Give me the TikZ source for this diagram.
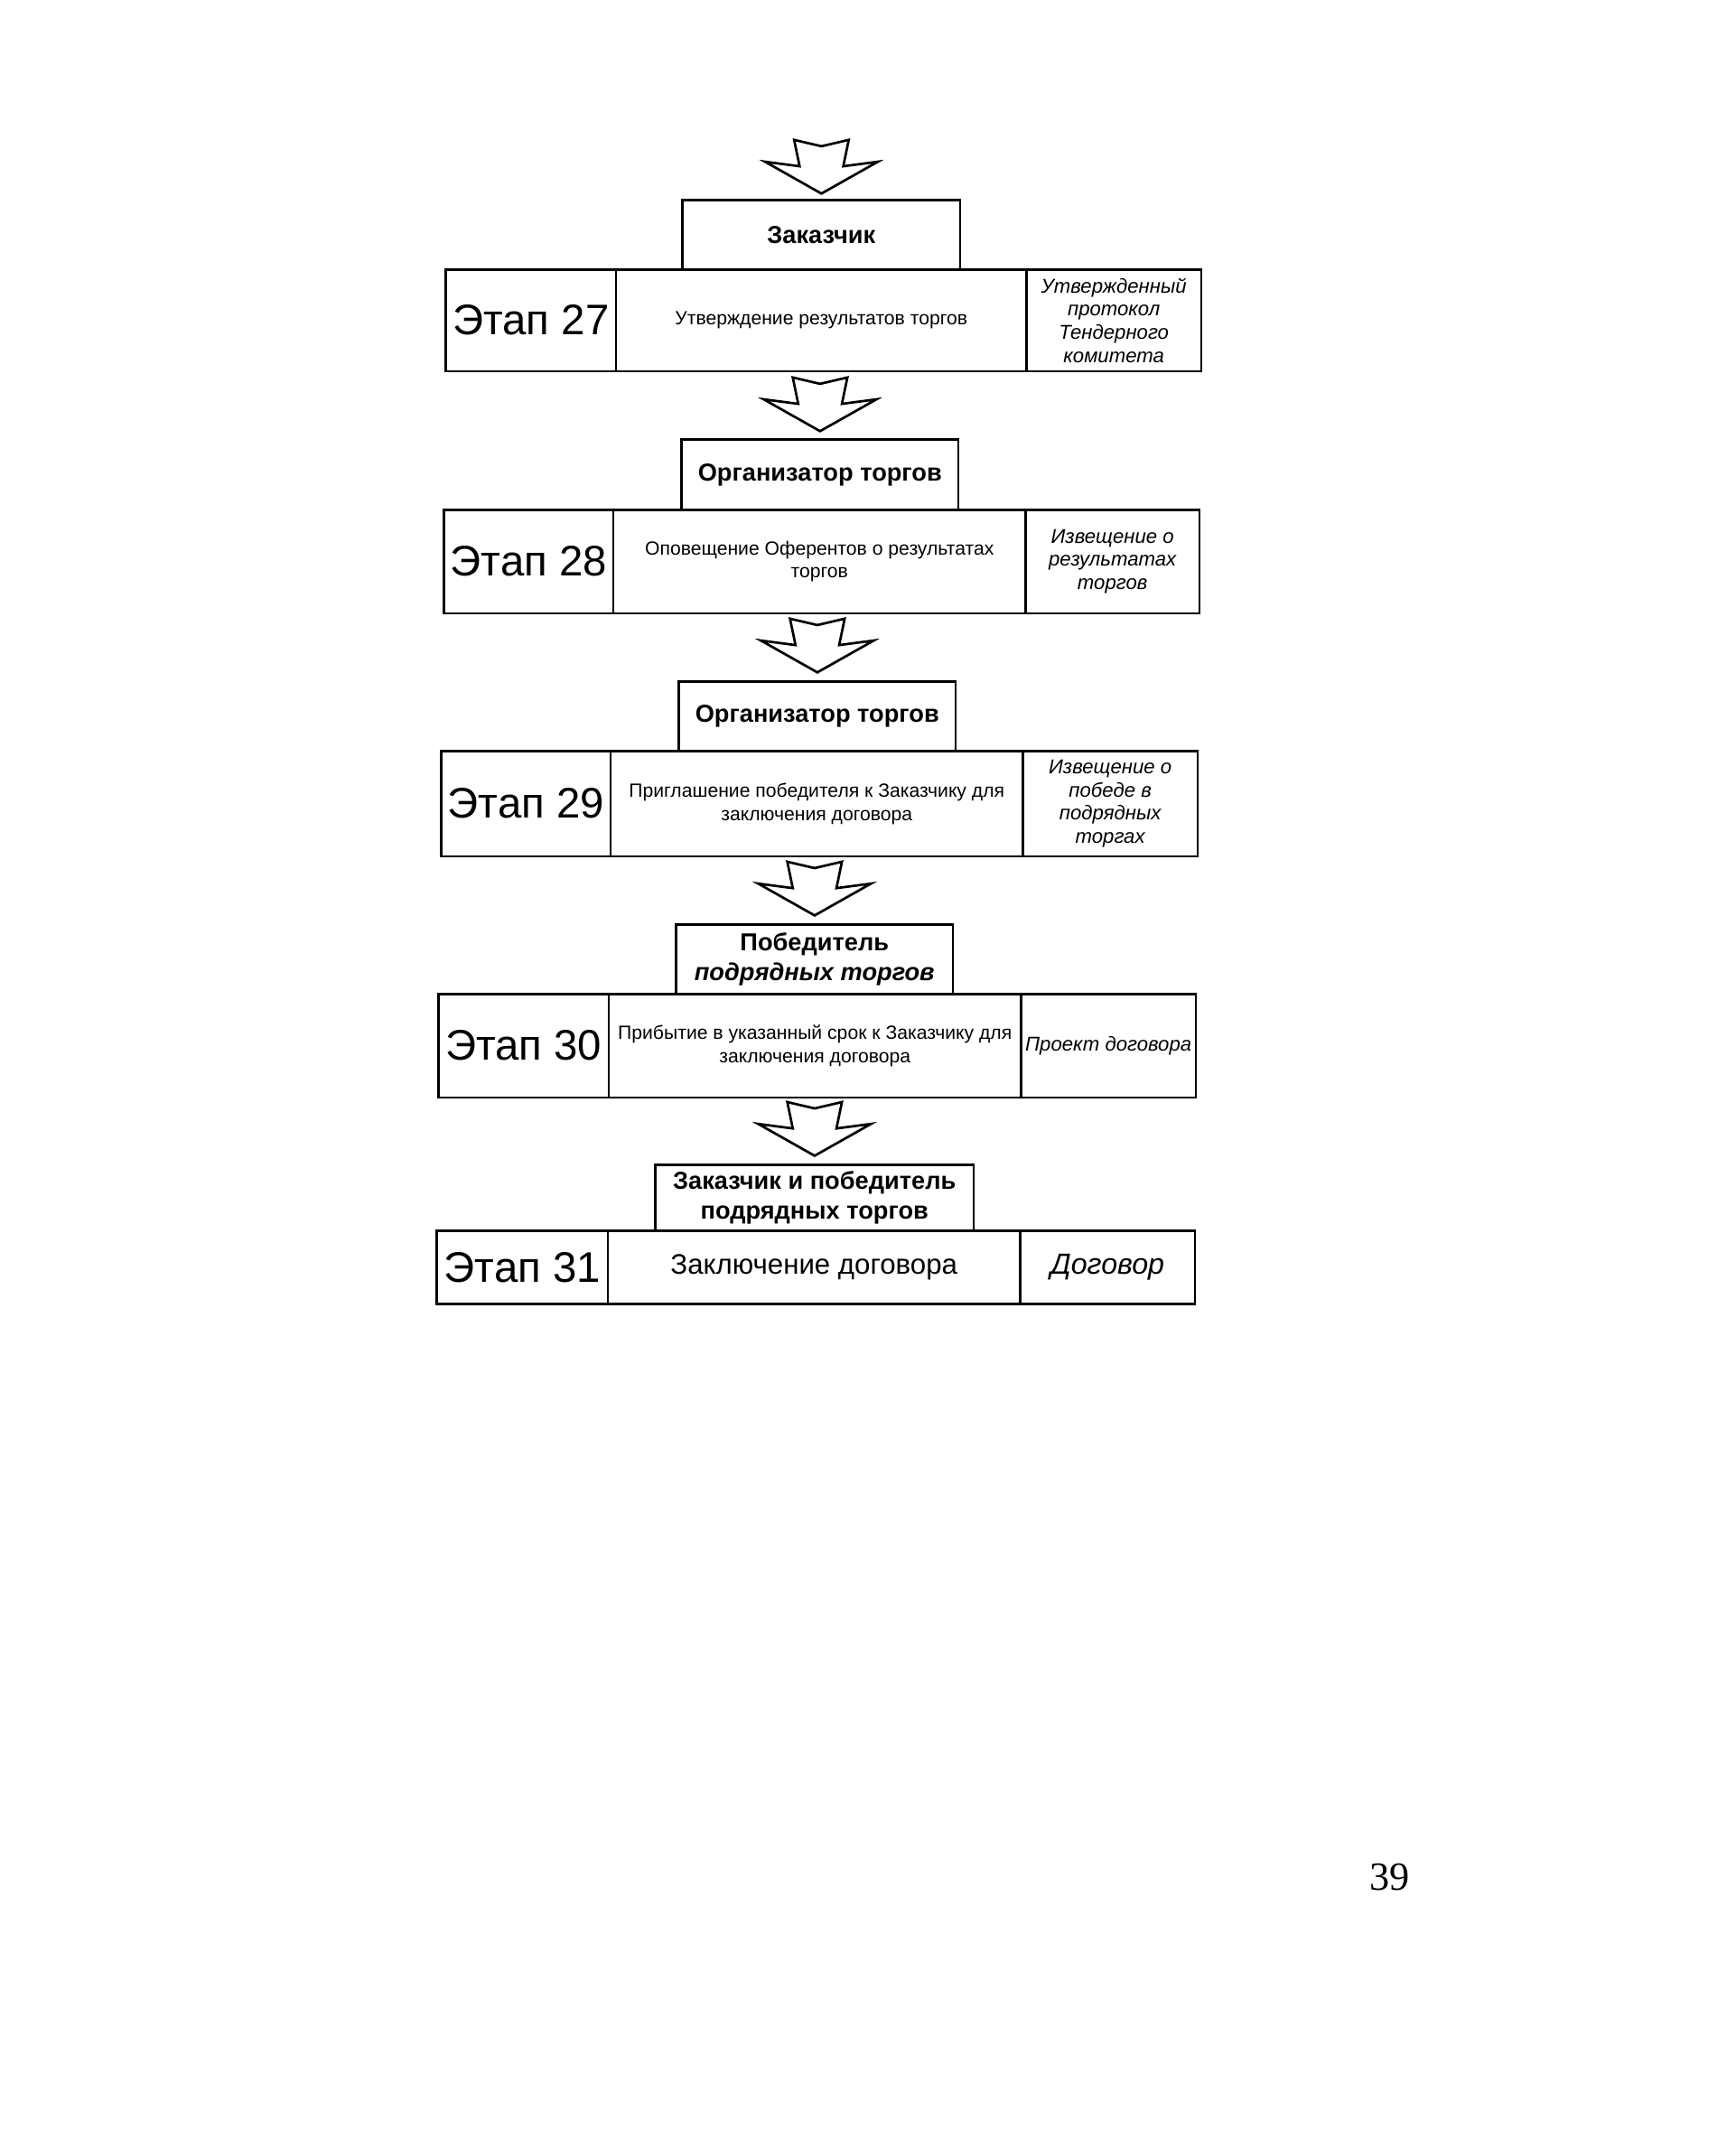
\documentclass[tikz,border=0pt]{standalone}
\usepackage{fontspec}
\setmainfont{Liberation Sans}
\newfontfamily\serifnum{Liberation Serif}
\usetikzlibrary{calc}
\tikzset{
  box/.style={draw, line width=1.35pt, inner sep=0pt, align=center, anchor=center},
  lab/.style={box, font=\fontsize{23.5}{28}\selectfont},
  desc/.style={box, font=\fontsize{10.5}{12.75}\selectfont},
  doc/.style={box, font=\fontsize{11}{12.75}\selectfont\itshape},
  actor/.style={box, font=\fontsize{13.5}{16.5}\selectfont\bfseries},
  arrowline/.style={draw, fill=white, line width=1.35pt, line join=miter},
  blockarrow/.pic={\path[arrowline] (-30,0) -- (0,7) -- (30,0) -- (24,29) -- (62,24) -- (0,59) -- (-62,24) -- (-24,29) -- cycle;}
}
\begin{document}
\begin{tikzpicture}[x=0.5pt,y=-0.5pt,scale=1.0075,transform shape]
\fill[white] (0,0) rectangle (1906.70,2351.36);
\path[use as bounding box] (0,0) rectangle (1906.70,2351.36);

% Stage 27
\node[lab, minimum width=93.5pt, minimum height=56pt] (s27) at (583.5,352) {Этап 27};
\node[desc, minimum width=225.5pt, minimum height=56pt] (d27) at (902.5,352) {Утверждение результатов торгов};
\node[doc, minimum width=96pt, minimum height=56pt] (r27) at (1224,352) {Утвержденный\\протокол\\Тендерного\\комитета};
\node[actor, minimum width=152.5pt, minimum height=38pt] (a27) at (902.5,258) {Заказчик};

% Stage 28
\node[lab, minimum width=93pt, minimum height=57pt] (s28) at (581,617) {Этап 28};
\node[desc, minimum width=226.5pt, minimum height=57pt] (d28) at (900.5,617) {Оповещение Оферентов о результатах\\торгов};
\node[doc, minimum width=95.5pt, minimum height=57pt] (r28) at (1222.5,617) {Извещение о\\результатах\\торгов};
\node[actor, minimum width=152pt, minimum height=38.5pt] (a28) at (901,521.5) {Организатор торгов};

% Stage 29
\node[lab, minimum width=93pt, minimum height=58pt] (s29) at (578,883) {Этап 29};
\node[desc, minimum width=226.5pt, minimum height=58pt] (d29) at (897.5,883) {Приглашение победителя к Заказчику для\\заключения договора};
\node[doc, minimum width=96pt, minimum height=58pt] (r29) at (1220,883) {Извещение о\\победе в\\подрядных\\торгах};
\node[actor, minimum width=152pt, minimum height=38pt] (a29) at (898,787) {Организатор торгов};

% Stage 30
\node[lab, minimum width=93.5pt, minimum height=57pt] (s30) at (575.5,1149) {Этап 30};
\node[desc, minimum width=226.5pt, minimum height=57pt] (d30) at (895.5,1149) {Прибытие в указанный срок к Заказчику для\\заключения договора};
\node[doc, minimum width=96pt, minimum height=57pt] (r30) at (1218,1149) {Проект договора};
\node[actor, minimum width=152pt, minimum height=38pt] (a30) at (895,1054) {Победитель\\{\itshape подрядных торгов}};

% Stage 31
\node[lab, minimum width=94pt, minimum height=40.5pt] (s31) at (574,1392.5) {Этап 31};
\node[box, font=\fontsize{15.5}{18}\selectfont, minimum width=226.5pt, minimum height=40.5pt] (d31) at (894.5,1392.5) {Заключение договора};
\node[box, font=\fontsize{16}{19}\selectfont\itshape, minimum width=96pt, minimum height=40.5pt] (r31) at (1217,1392.5) {Договор};
\node[actor, minimum width=175pt, minimum height=36pt] (a31) at (895,1316) {Заказчик и победитель\\подрядных торгов};

% Block arrows
\pic at ($(a27.north)+(0,-65)$) {blockarrow};
\pic at ($(a28.north)+(0,-67)$) {blockarrow};
\pic at ($(a29.north)+(0,-68)$) {blockarrow};
\pic at ($(a30.north)+(0,-68)$) {blockarrow};
\pic at ($(a31.north)+(0,-68)$) {blockarrow};

% Page number
\node[font=\serifnum\fontsize{22}{26}\selectfont] (pg) at (1527,2063) {39};
\end{tikzpicture}
\end{document}
